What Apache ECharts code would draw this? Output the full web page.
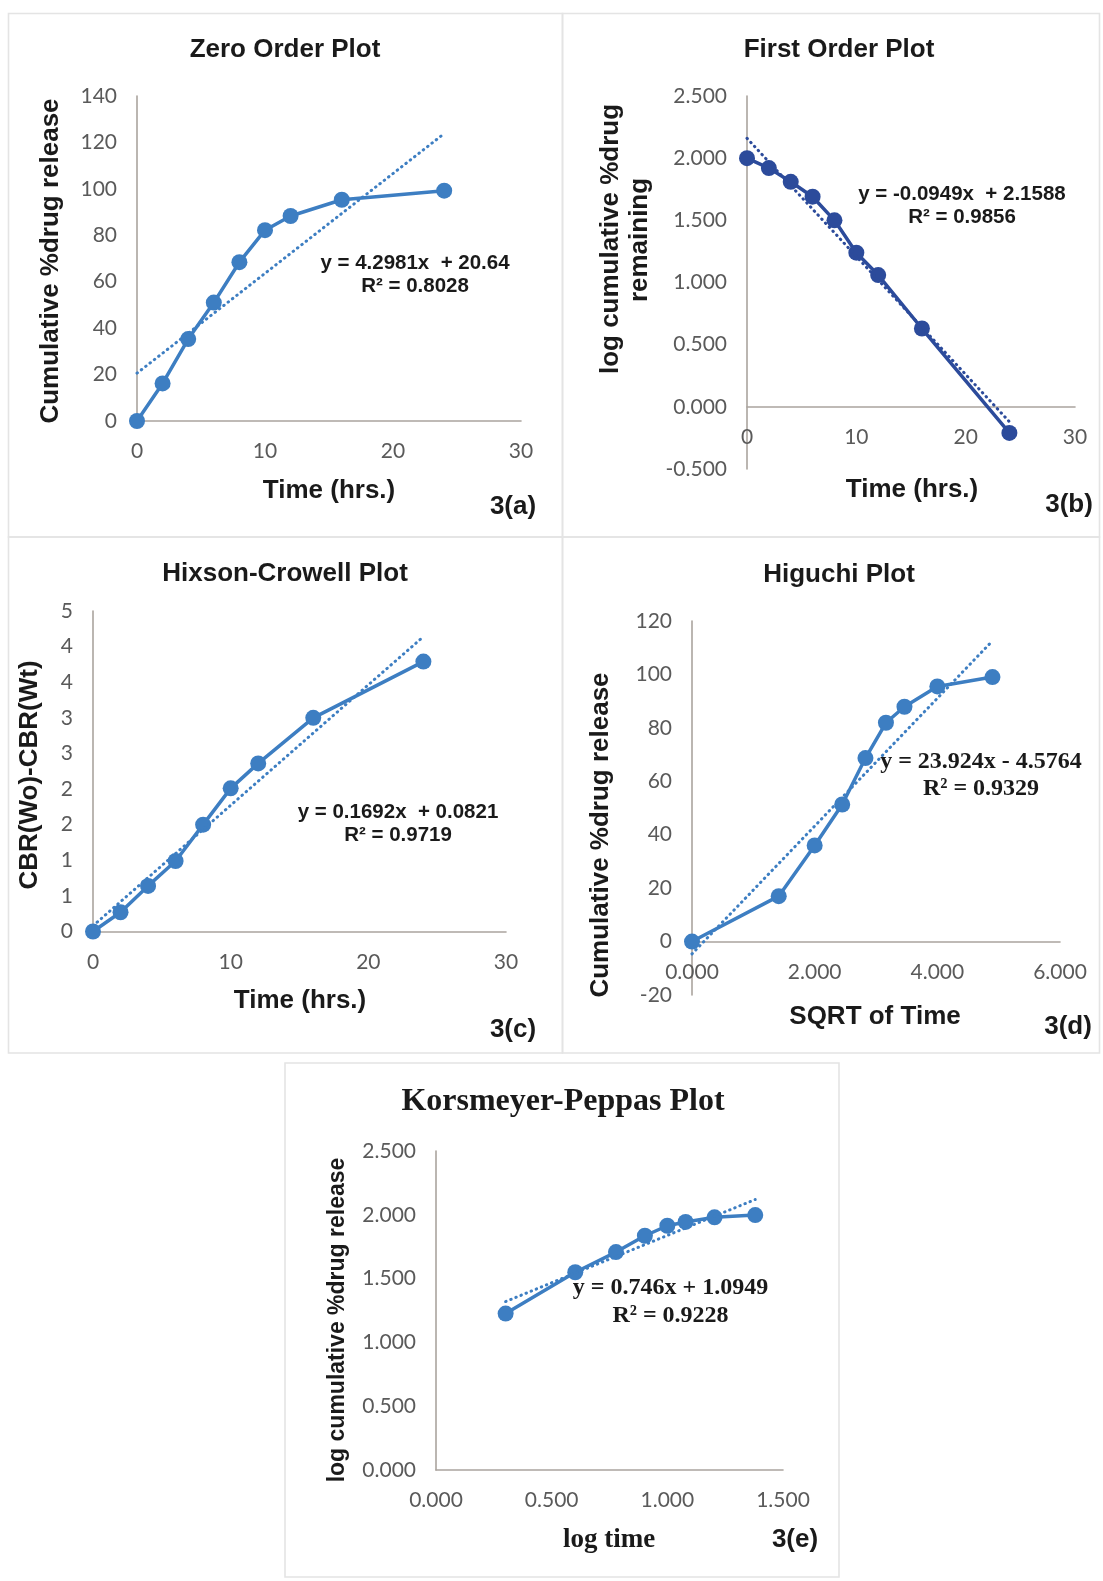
<!DOCTYPE html>
<html>
<head>
<meta charset="utf-8">
<script src="https://cdn.jsdelivr.net/npm/echarts@6/dist/echarts.min.js"></script>
<style>
html,body{margin:0;padding:0;background:#fff;}
#chart{width:1103px;height:1581px;}
</style>
</head>
<body>
<div id="chart"></div>
<script>
// ---- Data ----
var timeHrs        = [0, 2, 4, 6, 8, 10, 12, 16, 24];
var zeroRelease    = [0, 16.2, 35.3, 51.0, 68.4, 82.2, 88.3, 95.3, 99.2];
var firstLogRemain = [2.0, 1.92, 1.81, 1.69, 1.50, 1.24, 1.06, 0.63, -0.21];
var hcValues       = [0, 0.27, 0.64, 0.99, 1.50, 2.01, 2.36, 3.00, 3.79];
var sqrtTime       = [0, 1.414, 2.0, 2.449, 2.828, 3.162, 3.464, 4.0, 4.899];
var higuchiRelease = [0, 17.0, 36.0, 51.3, 68.7, 81.9, 87.9, 95.5, 99.0];
var logTime        = [0.301, 0.602, 0.778, 0.903, 1.0, 1.079, 1.204, 1.380];
var logRelease     = [1.226, 1.55, 1.708, 1.836, 1.914, 1.944, 1.98, 1.998];

// trend line end points (as drawn)
var zeroTrend  = [[0, 20.6], [24, 123.8]];
var firstTrend = [[0, 2.16], [24, -0.12]];
var hcTrend    = [[0, 0.08], [24, 4.14]];
var higTrend   = [[0, -4.6], [4.9, 112.6]];
var kpTrend    = [[0.301, 1.32], [1.38, 2.12]];

// tick labels of the Hixson-Crowell y axis (as printed)
var hcTickLabels = ['0', '1', '1', '2', '2', '3', '3', '4', '4', '5'];

var titles    = ['Zero Order Plot', 'First Order Plot', 'Hixson-Crowell Plot', 'Higuchi Plot', 'Korsmeyer-Peppas Plot'];
var xNames    = ['Time (hrs.)', 'Time (hrs.)', 'Time (hrs.)', 'SQRT of Time', 'log time'];
var equations = [
  ['y = 4.2981x  + 20.64', 'R\u00b2 = 0.8028'],
  ['y = -0.0949x  + 2.1588', 'R\u00b2 = 0.9856'],
  ['y = 0.1692x  + 0.0821', 'R\u00b2 = 0.9719'],
  ['y = 23.924x - 4.5764', 'R\u00b2 = 0.9329'],
  ['y = 0.746x + 1.0949', 'R\u00b2 = 0.9228']
];
var panelTags = ['3(a)', '3(b)', '3(c)', '3(d)', '3(e)'];

function zip(a, b) { return a.map(function (v, i) { return [v, b[i]]; }); }

var BLUE = '#3d7ec2';
var NAVY = '#2c4b9b';
var AXIS = '#aaa49e';
var TICK = '#5a5a5a';
var SANS = 'Liberation Sans, Arial, sans-serif';
var SERIF = 'Liberation Serif, Times New Roman, serif';
var TICKFONT = 'Lato, Carlito, sans-serif';

var grids = [
  {left: 137, top: 96,   width: 384, height: 325},
  {left: 747, top: 96,   width: 328, height: 373},
  {left: 93,  top: 611,  width: 413, height: 320.5},
  {left: 692, top: 621,  width: 368, height: 374},
  {left: 436, top: 1151, width: 347, height: 319}
];
// x-axis shifted up to the zero line of the value axis (px from grid bottom)
var xAxisOffsets = [0, -62.2, 0, -53.4, 0];

function fix3(v) { return v.toFixed(3); }
function plain(v) { return String(v); }

var axisSpecs = [
  {x: [0, 30, 10, plain], y: [0, 140, 20, plain]},
  {x: [0, 30, 10, plain], y: [-0.5, 2.5, 0.5, fix3]},
  {x: [0, 30, 10, plain], y: [0, 4.5, 0.5, function (v) { return hcTickLabels[Math.round(v / 0.5)]; }]},
  {x: [0, 6, 2, fix3],    y: [-20, 120, 20, plain]},
  {x: [0, 1.5, 0.5, fix3], y: [0, 2.5, 0.5, fix3]}
];

function mkAxis(spec, gi, offset) {
  return {
    type: 'value', gridIndex: gi, min: spec[0], max: spec[1], interval: spec[2],
    offset: offset || 0,
    splitLine: {show: false}, axisTick: {show: false},
    axisLine: {show: true, onZero: false, lineStyle: {color: AXIS, width: 1.6}},
    axisLabel: {formatter: spec[3], color: TICK, fontFamily: TICKFONT, fontSize: 21, margin: 20,
                showMinLabel: true, showMaxLabel: true, hideOverlap: false}
  };
}

var xAxes = [], yAxes = [];
axisSpecs.forEach(function (s, i) {
  xAxes.push(mkAxis(s.x, i, xAxisOffsets[i]));
  yAxes.push(mkAxis(s.y, i, 0));
});

var mainData = [
  zip(timeHrs, zeroRelease),
  zip(timeHrs, firstLogRemain),
  zip(timeHrs, hcValues),
  zip(sqrtTime, higuchiRelease),
  zip(logTime, logRelease)
];
var trends = [zeroTrend, firstTrend, hcTrend, higTrend, kpTrend];
var colors = [BLUE, NAVY, BLUE, BLUE, BLUE];

var series = [];
for (var i = 0; i < 5; i++) {
  series.push({
    type: 'line', xAxisIndex: i, yAxisIndex: i, data: mainData[i],
    symbol: 'circle', symbolSize: 16, showSymbol: true, animation: false,
    lineStyle: {color: colors[i], width: 3.5}, itemStyle: {color: colors[i]}, z: 3
  });
  series.push({
    type: 'line', xAxisIndex: i, yAxisIndex: i, data: trends[i],
    symbol: 'none', animation: false,
    lineStyle: {color: colors[i], width: 3, type: [0.5, 5], cap: 'round'}, z: 4
  });
}

// ---- text & frames ----
var graphics = [];
function txt(x, y, s, font, size, rot, weight, fill) {
  graphics.push({
    type: 'text', x: x, y: y, rotation: rot || 0, z: 10,
    style: {text: s, fontFamily: font, fontSize: size, fontWeight: weight || 'bold',
            fill: fill || '#1a1a1a', textAlign: 'center', textVerticalAlign: 'middle'}
  });
}
function frame(x, y, w, h) {
  graphics.push({type: 'rect', shape: {x: x, y: y, width: w, height: h}, z: 0,
    style: {fill: null, stroke: '#e4e4e4', lineWidth: 1.6}});
}
frame(8.5, 13.5, 554, 523.5);
frame(562.5, 13.5, 537, 523.5);
frame(8.5, 537, 554, 516);
frame(562.5, 537, 537, 516);
frame(285, 1063, 554, 514);

var titlePos = [[285, 49.5], [839, 49.5], [285, 574], [839, 574.5], [563, 1102]];
var xNamePos = [[329, 491], [912, 490], [300, 1001], [875, 1016.5], [609, 1540]];
var eqPos    = [[415, 263.5, 286], [962, 194, 217], [398, 812.5, 835.5], [981, 762, 789], [670.5, 1288, 1315.5]];
var tagPos   = [[513, 507], [1069, 505], [513, 1030], [1068, 1027], [795, 1540]];

for (var k = 0; k < 5; k++) {
  var serif = (k === 4);
  txt(titlePos[k][0], titlePos[k][1], titles[k], serif ? SERIF : SANS, serif ? 32 : 26);
  txt(xNamePos[k][0], xNamePos[k][1], xNames[k], serif ? SERIF : SANS, serif ? 27 : 26);
  var eqSerif = (k >= 3);
  txt(eqPos[k][0], eqPos[k][1], equations[k][0], eqSerif ? SERIF : SANS, eqSerif ? 24 : 20.5);
  txt(eqPos[k][0], eqPos[k][2], equations[k][1], eqSerif ? SERIF : SANS, eqSerif ? 24 : 20.5);
  txt(tagPos[k][0], tagPos[k][1], panelTags[k], SANS, 26);
}
// y-axis names (rotated)
var R = Math.PI / 2;
txt(50.5, 261, 'Cumulative %drug release', SANS, 26, R);
txt(611, 239, 'log cumulative %drug', SANS, 26, R);
txt(640, 240, 'remaining', SANS, 26, R);
txt(30, 775, 'CBR(Wo)-CBR(Wt)', SANS, 26, R);
txt(600.5, 835, 'Cumulative %drug release', SANS, 26, R);
txt(337.5, 1320, 'log cumulative %drug release', SANS, 23, R);

var chart = echarts.init(document.getElementById('chart'), null, {renderer: 'canvas'});
chart.setOption({
  backgroundColor: '#ffffff',
  animation: false,
  textStyle: {fontFamily: SANS},
  grid: grids.map(function (g) { return Object.assign({containLabel: false, outerBoundsMode: 'none'}, g); }),
  xAxis: xAxes,
  yAxis: yAxes,
  series: series,
  graphic: {elements: graphics}
});
</script>
</body>
</html>
